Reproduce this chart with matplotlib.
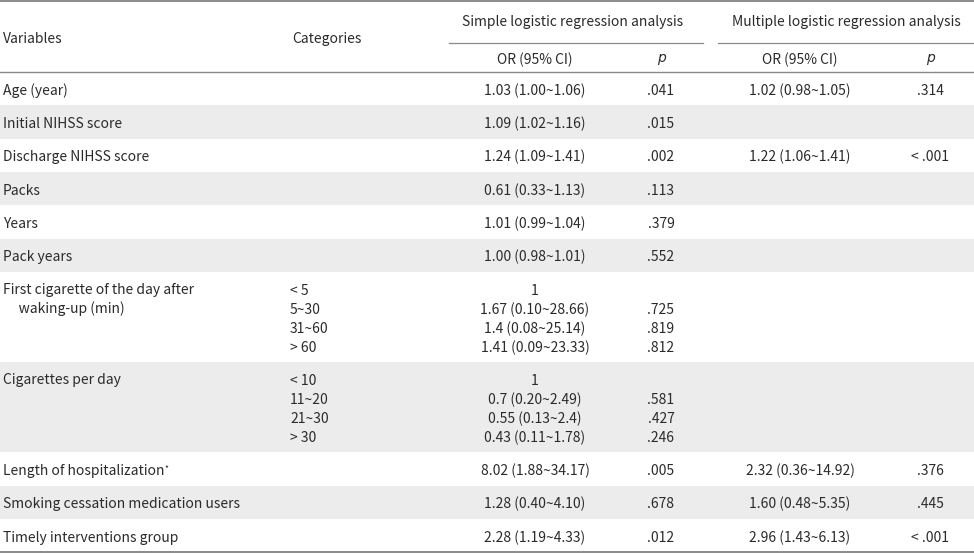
import matplotlib.pyplot as plt
from matplotlib.patches import Rectangle

plt.rcParams['font.family'] = ['Noto Sans CJK KR', 'DejaVu Sans']

# Table contents
variables = ["Age (year)", "Initial NIHSS score", "Discharge NIHSS score", "Packs",
             "Years", "Pack years", "First cigarette of the day after\n     waking-up (min)",
             "Cigarettes per day", "Length of hospitalization",
             "Smoking cessation medication users", "Timely interventions group"]
categories = [[], [], [], [], [], [],
              ["< 5", "5~30", "31~60", "> 60"],
              ["< 10", "11~20", "21~30", "> 30"],
              [], [], []]
or_simple = [["1.03 (1.00~1.06)"], ["1.09 (1.02~1.16)"], ["1.24 (1.09~1.41)"],
             ["0.61 (0.33~1.13)"], ["1.01 (0.99~1.04)"], ["1.00 (0.98~1.01)"],
             ["1", "1.67 (0.10~28.66)", "1.4 (0.08~25.14)", "1.41 (0.09~23.33)"],
             ["1", "0.7 (0.20~2.49)", "0.55 (0.13~2.4)", "0.43 (0.11~1.78)"],
             ["8.02 (1.88~34.17)"], ["1.28 (0.40~4.10)"], ["2.28 (1.19~4.33)"]]
p_simple = [[".041"], [".015"], [".002"], [".113"], [".379"], [".552"],
            ["", ".725", ".819", ".812"], ["", ".581", ".427", ".246"],
            [".005"], [".678"], [".012"]]
or_multi = [["1.02 (0.98~1.05)"], [""], ["1.22 (1.06~1.41)"], [""], [""], [""],
            [""], [""], ["2.32 (0.36~14.92)"], ["1.60 (0.48~5.35)"], ["2.96 (1.43~6.13)"]]
p_multi = [[".314"], [""], ["< .001"], [""], [""], [""], [""], [""],
           [".376"], [".445"], ["< .001"]]
footnote_rows = {"Length of hospitalization": "*"}

W, H = 974, 555
fig = plt.figure(figsize=(W / 100, H / 100), dpi=100)
ax = fig.add_axes([0, 0, 1, 1])
ax.set_xlim(0, W)
ax.set_ylim(H, 0)
ax.axis("off")

txt = "#2b2b2b"
fs = 10
grey_band = "#ececec"
rule = "#8a8a8a"
dy = 2  # baseline nudge for this font

x_var, x_cat = 3, 290
x_ors, x_ps = 535, 661
x_orm, x_pm = 800, 930

# header
ax.plot([0, W], [1, 1], color=rule, lw=1.4)
ax.text(x_var, 37 + dy, "Variables", fontsize=fs, color=txt, va="center")
ax.text(327, 37 + dy, "Categories", fontsize=fs, color=txt, va="center", ha="center")
ax.text(573, 20 + dy, "Simple logistic regression analysis", fontsize=fs, color=txt,
        va="center", ha="center")
ax.text(846, 20 + dy, "Multiple logistic regression analysis", fontsize=fs, color=txt,
        va="center", ha="center")
ax.plot([449, 703], [43, 43], color=rule, lw=0.9)
ax.plot([718, W], [43, 43], color=rule, lw=0.9)
for x in [x_ors, x_orm]:
    ax.text(x, 58 + dy, "OR (95% CI)", fontsize=fs, color=txt, va="center", ha="center")
for x in [x_ps, x_pm]:
    ax.text(x, 58, "p", fontsize=fs, color=txt, va="center", ha="center",
            style="italic", family="DejaVu Sans")
ax.plot([0, W], [72, 72], color=rule, lw=1.0)

# body
row_h, line_h = 33.3, 19
y = 72
for i, var in enumerate(variables):
    n = max(len(categories[i]), len(or_simple[i]), 1)
    h = row_h + (n - 1) * line_h
    if i % 2 == 1:
        ax.add_patch(Rectangle((0, y), W, h, color=grey_band, lw=0, zorder=0))
    first = y + h / 2 + dy if n == 1 else y + 17 + dy
    if n == 1:
        t = ax.text(x_var, first, var, fontsize=fs, color=txt, va="center")
    else:
        t = ax.text(x_var, first - 8, var, fontsize=fs, color=txt, va="top",
                    linespacing=1.35)
    if var in footnote_rows:
        ax.annotate(footnote_rows[var], xy=(1, 0.7), xycoords=t, fontsize=6,
                    color=txt, va="center", ha="left")
    for k in range(n):
        yy = first + k * line_h
        if k < len(categories[i]):
            ax.text(x_cat, yy, categories[i][k], fontsize=fs, color=txt, va="center")
        for col, x in [(or_simple, x_ors), (p_simple, x_ps), (or_multi, x_orm), (p_multi, x_pm)]:
            if k < len(col[i]) and col[i][k]:
                ax.text(x, yy, col[i][k], fontsize=fs, color=txt, va="center", ha="center")
    y += h

ax.plot([0, W], [y, y], color=rule, lw=1.4)

fig.savefig("out.png", dpi=100)
